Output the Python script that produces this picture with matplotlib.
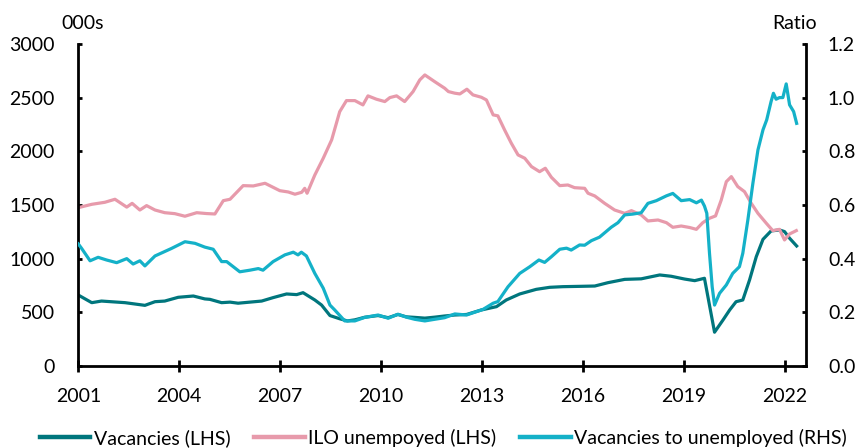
import numpy as np
import matplotlib
matplotlib.use("Agg")
import matplotlib.pyplot as plt

plt.rcParams['font.family'] = ['Lato', 'DejaVu Sans']

# Vacancies (000s)
vac_t = [2001.0, 2001.4, 2001.69, 2002.39, 2002.98, 2003.28, 2003.57, 2003.97, 2004.42, 2004.76,
         2004.91, 2005.26, 2005.51, 2005.75, 2006.1, 2006.45, 2006.79, 2007.19, 2007.49, 2007.68,
         2008.03, 2008.23, 2008.48, 2008.77, 2009.0, 2009.22, 2009.51, 2009.91, 2010.21, 2010.5,
         2010.75, 2011.0, 2011.3, 2011.59, 2011.89, 2012.19, 2012.54, 2012.98, 2013.43, 2013.72,
         2014.12, 2014.61, 2015.01, 2015.4, 2015.9, 2016.35, 2016.74, 2017.24, 2017.73, 2018.28,
         2018.62, 2019.02, 2019.32, 2019.61, 2019.68, 2019.91, 2020.16, 2020.36, 2020.55, 2020.75,
         2020.95, 2021.15, 2021.35, 2021.59, 2021.84, 2021.99, 2022.14, 2022.35]
vac = [661, 590, 605, 590, 565, 599, 605, 640, 652, 625,
       621, 590, 595, 585, 595, 605, 637, 671, 665, 683,
       615, 568, 470, 440, 420, 430, 454, 470, 450, 480,
       458, 453, 446, 455, 466, 475, 480, 522, 553, 615,
       671, 714, 733, 739, 742, 745, 776, 807, 812, 848,
       836, 810, 795, 817, 700, 315, 428, 522, 599, 615,
       801, 1018, 1180, 1258, 1267, 1252, 1190, 1118]

# ILO unemployed (000s)
unemp_t = [2001.0, 2001.4, 2001.79, 2002.09, 2002.44, 2002.6, 2002.83, 2003.03, 2003.28, 2003.57,
           2003.87, 2004.17, 2004.52, 2004.81, 2005.06, 2005.31, 2005.51, 2005.9, 2006.2, 2006.55,
           2006.99, 2007.24, 2007.44, 2007.64, 2007.73, 2007.8, 2008.03, 2008.28, 2008.53, 2008.77,
           2008.97, 2009.22, 2009.46, 2009.61, 2009.86, 2010.11, 2010.26, 2010.46, 2010.7, 2010.95,
           2011.15, 2011.3, 2011.59, 2011.89, 2012.0, 2012.19, 2012.34, 2012.55, 2012.73, 2012.98,
           2013.13, 2013.33, 2013.47, 2013.67, 2013.87, 2014.07, 2014.27, 2014.47, 2014.71, 2014.88,
           2015.06, 2015.31, 2015.55, 2015.75, 2016.05, 2016.15, 2016.35, 2016.64, 2016.94, 2017.24,
           2017.44, 2017.73, 2017.93, 2018.23, 2018.48, 2018.67, 2018.92, 2019.17, 2019.37, 2019.56,
           2019.76, 2019.94, 2020.11, 2020.26, 2020.41, 2020.6, 2020.8, 2021.0, 2021.2, 2021.45,
           2021.64, 2021.84, 2021.99, 2022.14, 2022.34]
unemp = [1475, 1506, 1525, 1553, 1480, 1515, 1453, 1494, 1453, 1428,
         1419, 1395, 1428, 1420, 1416, 1540, 1553, 1680, 1677, 1702,
         1633, 1621, 1600, 1618, 1655, 1609, 1779, 1935, 2106, 2369,
         2472, 2472, 2432, 2516, 2485, 2463, 2500, 2516, 2463, 2556,
         2665, 2711, 2649, 2587, 2556, 2541, 2534, 2578, 2525, 2503,
         2478, 2339, 2330, 2199, 2075, 1966, 1935, 1857, 1810, 1842,
         1758, 1680, 1686, 1661, 1655, 1609, 1584, 1516, 1453, 1422,
         1447, 1407, 1351, 1360, 1335, 1292, 1304, 1290, 1273, 1335,
         1376, 1398, 1547, 1717, 1764, 1671, 1624, 1516, 1422, 1329,
         1261, 1273, 1174, 1230, 1261]

# Vacancies to unemployed ratio
ratio_t = [2001.0, 2001.1, 2001.35, 2001.59, 2001.84, 2002.14, 2002.44, 2002.63, 2002.83, 2002.98,
           2003.28, 2003.77, 2004.17, 2004.47, 2004.76, 2005.01, 2005.26, 2005.41, 2005.8, 2006.1,
           2006.35, 2006.49, 2006.79, 2007.14, 2007.39, 2007.53, 2007.63, 2007.78, 2008.03, 2008.28,
           2008.48, 2008.62, 2008.92, 2009.22, 2009.51, 2009.91, 2010.21, 2010.5, 2010.75, 2011.0,
           2011.3, 2011.59, 2011.89, 2012.19, 2012.54, 2013.03, 2013.33, 2013.47, 2013.77, 2014.12,
           2014.42, 2014.69, 2014.86, 2015.06, 2015.31, 2015.51, 2015.65, 2015.9, 2016.05, 2016.25,
           2016.49, 2016.84, 2017.04, 2017.24, 2017.48, 2017.73, 2017.93, 2018.18, 2018.48, 2018.67,
           2018.92, 2019.17, 2019.37, 2019.52, 2019.61, 2019.68, 2019.76, 2019.84, 2019.91, 2020.06,
           2020.26, 2020.45, 2020.65, 2020.75, 2020.9, 2021.05, 2021.2, 2021.35, 2021.46, 2021.59,
           2021.66, 2021.74, 2021.84, 2021.94, 2022.04, 2022.14, 2022.26, 2022.35]
ratio = [0.455, 0.438, 0.392, 0.405, 0.395, 0.385, 0.400, 0.380, 0.392, 0.373,
         0.410, 0.438, 0.463, 0.457, 0.443, 0.435, 0.389, 0.389, 0.351, 0.357,
         0.363, 0.357, 0.389, 0.414, 0.424, 0.414, 0.424, 0.410, 0.345, 0.290,
         0.227, 0.209, 0.168, 0.168, 0.181, 0.190, 0.178, 0.193, 0.182, 0.174,
         0.168, 0.174, 0.180, 0.194, 0.190, 0.211, 0.234, 0.240, 0.295, 0.345,
         0.370, 0.395, 0.386, 0.407, 0.435, 0.439, 0.432, 0.451, 0.450, 0.467,
         0.480, 0.517, 0.534, 0.563, 0.566, 0.571, 0.606, 0.616, 0.634, 0.643,
         0.616, 0.620, 0.608, 0.618, 0.596, 0.569, 0.420, 0.295, 0.227, 0.271,
         0.302, 0.345, 0.370, 0.420, 0.544, 0.681, 0.805, 0.880, 0.917, 0.985,
         1.016, 0.994, 1.000, 1.000, 1.051, 0.973, 0.948, 0.904]

years = [2001, 2004, 2007, 2010, 2013, 2016, 2019, 2022]

c_vac = '#00767D'
c_unemp = '#E79AAB'
c_ratio = '#14B1C8'

fig = plt.figure(figsize=(8.66, 4.48), dpi=100)
ax = fig.add_axes([0.0904, 0.183, 0.8400, 0.719])
ax2 = ax.twinx()

l1, = ax.plot(vac_t, vac, color=c_vac, lw=2.3, label='Vacancies (LHS)')
l2, = ax.plot(unemp_t, unemp, color=c_unemp, lw=2.3, label='ILO unempoyed (LHS)')
l3, = ax2.plot(ratio_t, ratio, color=c_ratio, lw=2.3, label='Vacancies to unemployed (RHS)')

ax.set_xlim(2001, 2022.62)
ax.set_ylim(0, 3000)
ax2.set_ylim(0, 1.2)
ax.set_xticks(years)
ax.set_yticks(np.arange(0, 3001, 500))
ax2.set_yticks(np.arange(0, 1.21, 0.2))
ax2.set_yticklabels(['%.1f' % v for v in np.arange(0, 1.21, 0.2)])

for a in (ax, ax2):
    a.spines['top'].set_visible(False)
    for s in ('left', 'right', 'bottom'):
        a.spines[s].set_linewidth(2.0)
ax.spines['right'].set_visible(False)
ax2.spines['left'].set_visible(False)
ax2.spines['bottom'].set_visible(False)

ax.tick_params(axis='y', direction='in', length=3, width=2.0, labelsize=14, pad=17)
ax.tick_params(axis='x', direction='inout', length=9, width=2.0, labelsize=14, pad=11)
ax2.tick_params(axis='y', direction='in', length=3, width=2.0, labelsize=14, pad=16)

fig.text(0.095, 0.948, '000s', fontsize=14, ha='center', va='center')
fig.text(0.918, 0.948, 'Ratio', fontsize=14, ha='center', va='center')

leg = fig.legend(handles=[l1, l2, l3], loc='center', bbox_to_anchor=(0.512, 0.023),
                 ncol=3, frameon=False, fontsize=14, handlelength=2.6,
                 handletextpad=0.2, columnspacing=1.2)
for h in leg.get_lines():
    h.set_linewidth(3.2)

fig.savefig('out.png', dpi=100)
